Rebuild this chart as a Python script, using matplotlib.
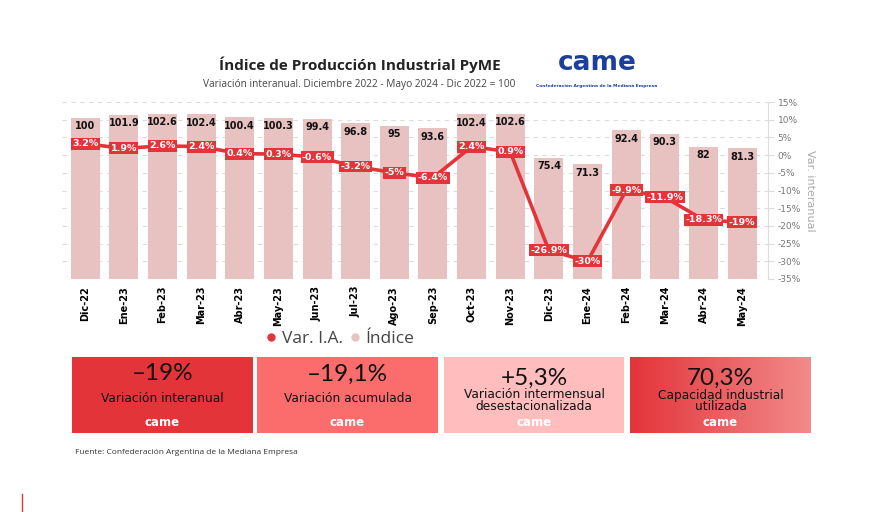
import numpy as np
import matplotlib.pyplot as plt
from matplotlib.lines import Line2D
from matplotlib.patches import Rectangle
from matplotlib.colors import LinearSegmentedColormap

meses = ['Dic-22', 'Ene-23', 'Feb-23', 'Mar-23', 'Abr-23', 'May-23', 'Jun-23',
         'Jul-23', 'Ago-23', 'Sep-23', 'Oct-23', 'Nov-23', 'Dic-23', 'Ene-24',
         'Feb-24', 'Mar-24', 'Abr-24', 'May-24']
indice = [100, 101.9, 102.6, 102.4, 100.4, 100.3, 99.4, 96.8, 95, 93.6,
          102.4, 102.6, 75.4, 71.3, 92.4, 90.3, 82, 81.3]
var_ia = [3.2, 1.9, 2.6, 2.4, 0.4, 0.3, -0.6, -3.2, -5, -6.4,
          2.4, 0.9, -26.9, -30, -9.9, -11.9, -18.3, -19]
pct_ticks = list(range(-35, 16, 5))

kpi_valores = ['\u201319%', '\u201319,1%', '+5,3%', '70,3%']
kpi_textos = ['Variación interanual', 'Variación acumulada',
              'Variación intermensual\ndesestacionalizada',
              'Capacidad industrial\nutilizada']

ROJO = '#e3343a'
ROSA = '#e8c1c1'
W, H = 880, 512

fig = plt.figure(figsize=(8.8, 5.12), dpi=100)
fig.patch.set_facecolor('white')

# --- grafico principal ---
ax = fig.add_axes([62 / W, 1 - 279 / H, (768 - 62) / W, (279 - 102) / H])
x = np.arange(len(meses))
ax.bar(x, indice, width=0.75, color=ROSA, zorder=2)
ax.set_ylim(0, 110)
ax.set_xlim(-0.6, 17.67)
ax.set_yticks(np.linspace(0, 110, len(pct_ticks)))
ax.yaxis.set_ticklabels([])
ax.tick_params(axis='y', length=0)
ax.grid(axis='y', ls=(0, (4, 4)), color='#dcdcdc', lw=0.8)
ax.set_axisbelow(True)
for s in ax.spines.values():
    s.set_visible(False)
ax.set_xticks(x)
ax.set_xticklabels(meses, rotation=90, fontsize=7, fontweight='bold',
                   family=['Liberation Sans Narrow', 'DejaVu Sans'])
ax.tick_params(axis='x', length=0, pad=5)

for i, v in enumerate(indice):
    ax.annotate(f'{v:g}', (i, v), xytext=(0, -6), textcoords='offset points',
                ha='center', va='center', fontsize=7, fontweight='bold',
                color='#111111', zorder=3)

ax2 = ax.twinx()
ax2.set_ylim(-35, 15)
ax2.set_yticks(pct_ticks)
ax2.set_yticklabels([f'{t}%' for t in pct_ticks])
for k, s in ax2.spines.items():
    s.set_visible(k == 'right')
ax2.spines['right'].set_color('#dddddd')
ax2.tick_params(axis='y', length=4, color='#dddddd', labelsize=6.5,
                labelcolor='#777777', pad=3)
ax2.set_ylabel('Var. interanual', rotation=270, color='#aaaaaa', fontsize=8,
               labelpad=10)

ax2.plot(x, var_ia, color=ROJO, lw=2.6, zorder=3, solid_joinstyle='round')
for i, v in enumerate(var_ia):
    ax2.text(i, v, f'{v:g}%', ha='center', va='center', fontsize=6.8,
             fontweight='bold', color='white', zorder=4,
             bbox=dict(boxstyle='square,pad=0.15', fc=ROJO, ec='none'))

# --- titulos ---
fig.text(360 / W, 1 - 65 / H, 'Índice de Producción Industrial PyME',
         ha='center', va='center', fontsize=11, fontweight='bold',
         family='Open Sans', color='#222222')
fig.text(359 / W, 1 - 85 / H,
         'Variación interanual. Diciembre 2022 - Mayo 2024 - Dic 2022 = 100',
         ha='center', va='center', fontsize=7.3, family='Open Sans',
         color='#444444')

# logo
fig.text(597 / W, 1 - 63 / H, 'came', ha='center', va='center', fontsize=19,
         fontweight='bold', color='#1d3e9a')
fig.text(597 / W, 1 - 86 / H, 'Confederación Argentina de la Mediana Empresa',
         ha='center', va='center', fontsize=3.2, fontweight='bold',
         color='#1d3e9a')

# leyenda
handles = [Line2D([], [], marker='o', ls='none', color=ROJO, ms=5),
           Line2D([], [], marker='o', ls='none', color=ROSA, ms=5)]
fig.legend(handles, ['Var. I.A.', 'Índice'], loc='center',
           bbox_to_anchor=(340 / W, 1 - 339 / H), ncol=2, frameon=False,
           handlelength=0.6, handletextpad=0.3, columnspacing=0.4,
           labelcolor='#444444', prop={'family': 'Open Sans', 'size': 12.5})

# --- recuadros inferiores ---
ov = fig.add_axes([0, 0, 1, 1])
ov.patch.set_alpha(0)
ov.axis('off')

cajas_x = [(72, 253), (257, 438), (444, 624), (630, 811)]
colores = [ROJO, '#fb6d6d', '#ffbdbd', None]
y0, y1 = 357, 433
for (xa, xb), c in zip(cajas_x, colores):
    if c is None:
        cmap = LinearSegmentedColormap.from_list('g', [ROJO, '#f28a8a'])
        ov.imshow(np.linspace(0, 1, 256)[None, :], extent=(xa, xb, y1, y0),
                  cmap=cmap, aspect='auto', zorder=1)
    else:
        ov.add_patch(Rectangle((xa, y0), xb - xa, y1 - y0, fc=c, ec='none',
                               zorder=1))

for (xa, xb), val, txt in zip(cajas_x, kpi_valores, kpi_textos):
    cx = (xa + xb) / 2
    dos = '\n' in txt
    ov.text(cx, 378 if dos else 374, val, ha='center', va='center',
            fontsize=17.5, family='Lato', color='#111111', zorder=2)
    ov.text(cx, 401 if dos else 399, txt, ha='center', va='center',
            fontsize=8.8, color='#111111', linespacing=0.9, zorder=2)
    ov.text(cx, 422, 'came', ha='center', va='center', fontsize=8.5,
            fontweight='bold', color='white', zorder=2)

ov.text(75, 452, 'Fuente: Confederación Argentina de la Mediana Empresa',
        ha='left', va='center', fontsize=6, family='Open Sans',
        color='#333333')
ov.plot([22, 22], [494, 512], color=ROJO, lw=1)

ov.set_xlim(0, W)
ov.set_ylim(H, 0)

fig.savefig('out.png', dpi=100, facecolor='white')
